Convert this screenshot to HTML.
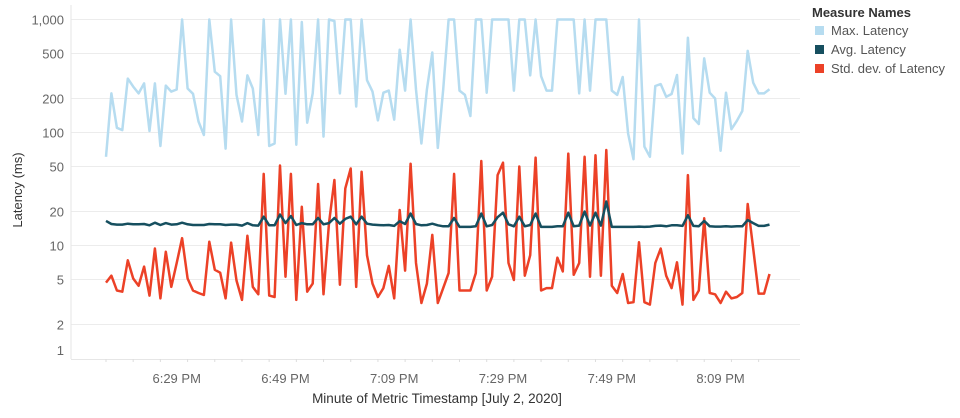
<!DOCTYPE html>
<html><head><meta charset="utf-8"><style>
body{margin:0;background:#fff;font-family:"Liberation Sans",sans-serif;}
svg text{font-family:"Liberation Sans",sans-serif;}
</style></head><body>
<svg id="chart" width="960" height="413" xmlns="http://www.w3.org/2000/svg">
<g id="grid"></g>
<g id="yaxis"></g>
<g id="xaxis"></g>
<g id="series"></g>
<text x="0" y="0" transform="translate(22,190) rotate(-90)" text-anchor="middle" font-size="13" fill="#333">Latency (ms)</text>
<text x="437" y="403" text-anchor="middle" font-size="13.5" fill="#333">Minute of Metric Timestamp [July 2, 2020]</text>
<g>
<text x="812" y="17" font-size="13" font-weight="bold" fill="#333">Measure Names</text>
<rect x="815" y="26" width="9" height="9" fill="#b6dcf0"/>
<text x="831" y="35" font-size="13" fill="#555">Max. Latency</text>
<rect x="815" y="45" width="9" height="9" fill="#164f5f"/>
<text x="831" y="54" font-size="13" fill="#555">Avg. Latency</text>
<rect x="815" y="64" width="9" height="9" fill="#ec4127"/>
<text x="831" y="73" font-size="13" fill="#555">Std. dev. of Latency</text>
</g>
</svg>
<script>
const yTicks=[1000,500,200,100,50,20,10,5,2,1];
const yTickLabels=["1,000","500","200","100","50","20","10","5","2","1"];
const xTickMinutes=[13,33,53,73,93,113];
const xTickLabels=["6:29 PM","6:49 PM","7:09 PM","7:29 PM","7:49 PM","8:09 PM"];
const maxLatency=[61,222,110,105,300,255,222,272,103,272,76,260,230,240,1000,245,220,125,95,1000,345,315,72,1000,215,125,320,245,95,1000,76,80,1000,220,1000,78,950,122,222,1000,92,1000,970,222,1000,1000,170,1000,290,230,128,225,235,130,540,235,1000,240,80,240,510,73,240,1000,1000,235,215,140,1000,1000,225,1000,1000,1000,1000,235,1000,1000,320,1000,315,235,235,1000,1000,1000,1000,222,1000,235,1000,1000,1000,235,215,310,98,58,1000,75,61,258,268,207,219,323,65,690,134,119,453,225,200,69,225,107,127,155,527,276,222,222,241];
const avgLatency=[16.5,15.5,15.3,15.3,15.6,15.4,15.4,15.5,15.1,15.9,15.2,15.8,15.3,15.4,15.9,15.4,15.2,15.2,15.2,15.5,15.4,15.4,15.2,15.3,15.3,15.0,15.8,15.1,15.0,18.0,15.1,15.1,18.8,15.8,18.2,15.2,15.8,15.4,15.4,17.5,15.4,15.8,17.5,15.6,17.2,18.0,15.4,18.0,15.6,15.3,15.2,15.1,15.2,14.9,16.4,15.5,19.2,15.5,15.1,15.2,15.6,15.1,14.8,14.8,17.5,14.6,14.6,14.6,14.8,19.2,14.8,15.2,17.8,19.5,15.4,14.8,18.0,14.8,15.2,19.2,14.6,14.6,14.6,14.8,14.8,19.5,14.8,15.0,20.0,15.0,19.5,15.0,24.5,14.6,14.6,14.6,14.6,14.6,14.7,14.6,14.7,14.9,15.0,14.8,15.1,15.1,14.9,18.5,14.9,14.8,16.5,14.8,14.7,14.7,14.8,14.7,14.8,14.8,16.8,15.8,14.9,14.9,15.3];
const stdLatency=[4.7,5.4,4.0,3.9,7.4,5.1,4.4,6.5,3.6,9.4,3.4,8.8,4.3,7.0,11.6,5.1,4.0,3.8,3.65,10.8,6.1,5.75,3.4,10.6,4.9,3.3,12.2,4.3,3.7,43,3.6,3.5,51,5.3,43,3.3,22,3.9,4.6,35,3.7,15.8,38,4.5,32,48,4.3,45,8.2,4.6,3.5,4.2,6.6,3.4,20.6,6.0,53,7.0,3.1,4.6,12.4,3.1,4.2,5.7,43,4.0,4.0,4.0,5.7,56,4.0,5.3,42,54,7.0,4.95,50,5.4,8.2,60,4.0,4.2,4.2,7.8,5.9,65,5.5,7.0,61,5.3,63,5.4,70,4.4,3.8,5.6,3.1,3.15,10.7,3.15,3.0,7.0,9.4,5.4,4.2,7.1,3.0,42,3.3,4.0,17.4,3.8,3.7,3.1,3.9,3.4,3.5,3.8,23.3,9.4,3.75,3.75,5.6];

const NS="http://www.w3.org/2000/svg";
const PL=71,PR=800,PT=5,PB=359;
const X0=106,DX=(769.5-106)/(maxLatency.length-1);
function yScale(v){return 132.5-113*Math.log10(v/100);}
function xScale(i){return X0+DX*i;}
function mk(tag,attrs,parent){const e=document.createElementNS(NS,tag);for(const k in attrs)e.setAttribute(k,attrs[k]);parent.appendChild(e);return e;}
const grid=document.getElementById('grid'),ya=document.getElementById('yaxis'),xa=document.getElementById('xaxis'),ser=document.getElementById('series');
yTicks.forEach((t,k)=>{
  const y=yScale(t);
  if(t>1){const g=mk('line',{x1:PL,x2:PR,y1:y,y2:y,stroke:'#ececec','stroke-width':1},grid);
  
  }
  const lbl=mk('text',{x:64,y:(t===1?350:y)+5,'text-anchor':'end','font-size':13,fill:'#666'},ya);
  lbl.textContent=yTickLabels[k];
  
  
});
mk('line',{x1:PL,x2:PL,y1:PT,y2:PB,stroke:'#e6e6e6'},grid);
mk('line',{x1:PL,x2:PR,y1:PB+0.5,y2:PB+0.5,stroke:'#e6e6e6'},grid);
for(let m=-13;m<=110;m+=5){const x=xScale(m+13);if(x>PL&&x<PR)mk('line',{x1:x,x2:x,y1:PB,y2:PB+3,stroke:'#ddd'},xa);}
xTickMinutes.forEach((m,k)=>{
  const t=mk('text',{x:xScale(m),y:383,'text-anchor':'middle','font-size':13,fill:'#666'},xa);
  t.textContent=xTickLabels[k];
  
  
});
function line(arr,color,w,name){
  const d=arr.map((v,i)=>(i?'L':'M')+xScale(i).toFixed(1)+','+yScale(v).toFixed(1)).join('');
  const p=mk('path',{d:d,fill:'none',stroke:color,'stroke-width':w,'stroke-linejoin':'round'},ser);
  
  
}
line(maxLatency,'#b6dcf0',2.5,'max-latency-line');
line(stdLatency,'#ec4127',2.5,'std-dev-latency-line');
line(avgLatency,'#164f5f',2.5,'avg-latency-line');
</script>
</body></html>
